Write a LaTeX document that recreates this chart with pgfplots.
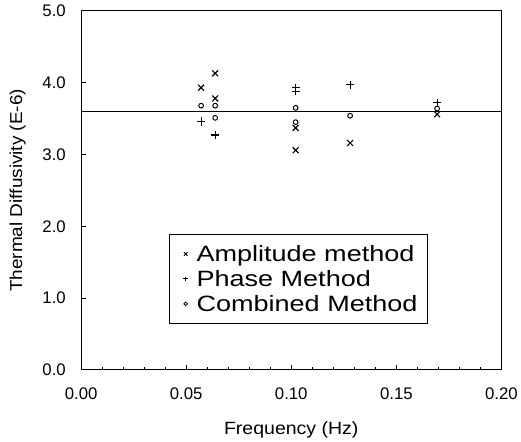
\documentclass[border=0pt]{standalone}
\usepackage{fontspec}
\setmainfont{Liberation Sans}
\newfontfamily\legfont[FakeStretch=1.22]{Liberation Sans}
\newfontfamily\labfont[FakeStretch=1.1]{Liberation Sans}
\usepackage{pgfplots}
\pgfplotsset{compat=1.18}
\begin{document}
\begin{tikzpicture}
\begin{axis}[
  scale only axis,
  width=425bp, height=363bp,
  xmin=0, xmax=0.2, ymin=0, ymax=5,
  xtick={0,0.05,0.1,0.15,0.2},
  xticklabels={0.00,0.05,0.10,0.15,0.20},
  minor xtick={0.01,0.02,...,0.19},
  ytick={0,1,2,3,4,5},
  yticklabels={0.0,1.0,2.0,3.0,4.0,5.0},
  tick align=inside,
  xtick pos=bottom, ytick pos=left,
  major tick length=5bp, minor tick length=3bp,
  axis line style={line width=1.2pt},
  tick style={line width=0.8pt, black},
  ticklabel style={font=\fontsize{17}{20}\selectfont},
  /pgf/number format/assume math mode=true,
  xticklabel style={yshift=-15bp},
  yticklabel style={xshift=-12bp},
  xlabel={Frequency (Hz)},
  ylabel={Thermal Diffusivity (E-6)},
  xlabel style={font=\labfont\fontsize{18}{20}\selectfont, yshift=-15bp},
  ylabel style={font=\labfont\fontsize{17.5}{20}\selectfont, yshift=10bp},
  legend style={at={(axis cs:0.0416,0.64)}, anchor=south west,
    draw=black, line width=0.8pt, font=\legfont\fontsize{22.5}{24}\selectfont,
    inner xsep=8bp, inner ysep=9bp, row sep=3.5bp},
  legend cell align=left,
  legend image code/.code={\path (0cm,0cm) (0.6cm,0cm);
    \draw[#1] plot coordinates {(0.3cm,0cm)};},
]
\addplot[only marks, mark=x, mark size=4.2bp, line width=1.2pt, black,
  legend image post style={mark size=2.6bp, line width=0.9pt}]
  coordinates {(0.0571,3.93) (0.0638,4.13) (0.0638,3.78) (0.1021,3.37) (0.1021,3.06) (0.128,3.16) (0.1694,3.56)};
\addlegendentry{Amplitude method}
\addplot[only marks, mark=+, mark size=4.2bp, line width=1.2pt, black,
  legend image post style={mark size=2.3bp, line width=0.9pt}]
  coordinates {(0.0571,3.46) (0.0638,3.27) (0.1021,3.93) (0.1021,3.88) (0.128,3.97) (0.1694,3.72)};
\addlegendentry{Phase Method}
\addplot[only marks, mark=o, mark size=2.4bp, line width=1pt, black,
  legend image post style={mark size=1.8bp, line width=0.8pt}]
  coordinates {(0.0571,3.68) (0.0638,3.68) (0.0638,3.51) (0.1021,3.65) (0.1021,3.45) (0.128,3.54) (0.1694,3.64)};
\addlegendentry{Combined Method}
\addplot[black, line width=1.2pt, forget plot] coordinates {(0,3.6) (0.2,3.6)};
\end{axis}
\path ([shift={(-82bp,-70bp)}]current axis.south west) rectangle ([shift={(16bp,11bp)}]current axis.north east);
\end{tikzpicture}
\end{document}
